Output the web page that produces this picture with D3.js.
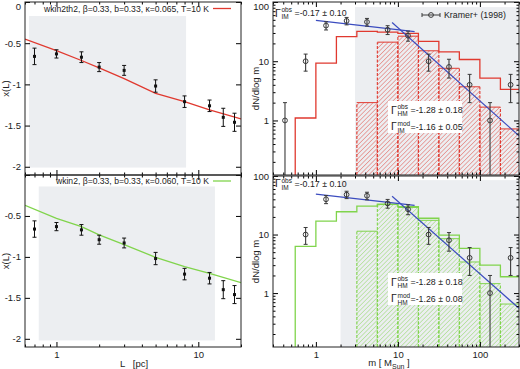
<!DOCTYPE html>
<html>
<head>
<meta charset="utf-8">
<script src="https://cdn.jsdelivr.net/npm/d3@7"></script>
<style>
  body { margin: 0; background: #fff; }
  svg { display: block; font-family: "Liberation Sans", Arial, sans-serif; }
</style>
</head>
<body>
<svg id="fig" width="520" height="369"></svg>
<script>
// ---- left panels: x(L) vs L ----
const obsL = [0.7, 1, 1.5, 2, 3, 5, 8, 12, 15, 18];
const obsX = [-0.66, -0.63, -0.67, -0.79, -0.83, -1.02, -1.21, -1.26, -1.40, -1.46];
const obsXErr = [0.10, 0.05, 0.065, 0.055, 0.06, 0.075, 0.07, 0.07, 0.11, 0.11];

const modelL = [0.6, 1, 1.5, 2, 3, 5, 8, 12, 20];
const modelRed = [-0.45, -0.59, -0.71, -0.80, -0.93, -1.11, -1.21, -1.31, -1.42];
const modelGreen = [-0.37, -0.53, -0.63, -0.73, -0.85, -1.005, -1.12, -1.20, -1.315];

const shadeTopL = [0.64, 8.2], shadeTopX = [-2.01, -0.17];
const shadeBotL = [0.75, 13.1], shadeBotX = [-2.02, -0.14];

const legendTop = "wkin2th2, β=0.33, b=0.33, κ=0.065, T=10 K";
const legendBot = "wkin2, β=0.33, b=0.33, κ=0.060, T=10 K";

// ---- right panels: mass spectra ----
const binEdges = [0.56, 1, 1.78, 3.16, 5.62, 10, 17.8, 31.6, 56.2, 100, 178, 316];
const redAll = [1.1, 9.3, 26, 32, 31, 29.5, 21.6, 14.4, 10.7, 5.2, 3.35];
const redSel = [null, null, null, 2.0, 21, 26.5, 15, 7.6, 3.7, 1.68, 0.72];
const greenAll = [6.3, 17, 24.5, 30.6, 33, 30, 19, 9.8, 5.8, 3.0, 1.9];
const greenSel = [null, null, null, 11.4, 32.5, 29, 17.5, 8.5, 3.4, 1.45, 0.65];

const kramerM = [0.42, 0.75, 1.33, 2.37, 4.2, 7.5, 13.3, 23.7, 42, 75, 133, 237];
const kramerN = [1, 10, 40, 48, 46, 34, 27, 10, 8, 4, 1, 4];
const kramerErr = [1, 3.2, 6.3, 6.9, 6.8, 5.8, 5.2, 3.2, 2.8, 2, 1, 2];

const fitImM = [1, 16], fitImN = [49, 31.5];
const fitHmM = [8.5, 300], fitHmN = [45, 0.55];

const shadeTopM = [3, 300], shadeTopN = [0.12, 82];
const shadeBotM = [2, 300], shadeBotN = [0.12, 85];

const xMajorL = [1, 10], xMinorL = [0.6, 0.7, 0.8, 0.9, 2, 3, 4, 5, 6, 7, 8, 9, 20];
const yMajorL = [0, -0.5, -1, -1.5, -2];
const mMajor = [1, 10, 100];
const mMinor = [0.3, 0.4, 0.5, 0.6, 0.7, 0.8, 0.9, 2, 3, 4, 5, 6, 7, 8, 9, 20, 30, 40, 50, 60, 70, 80, 90, 200, 300];
const nMajor = [1, 10, 100];
const nMinor = [0.2, 0.3, 0.4, 0.5, 0.6, 0.7, 0.8, 0.9, 2, 3, 4, 5, 6, 7, 8, 9, 20, 30, 40, 50, 60, 70, 80, 90];

const FONT = '"Liberation Sans", Arial, sans-serif';
const RED = "#e0392f", GREEN = "#80d44c", BLUE = "#3b4cbf", GREY = "#eceef1";

const svg = d3.select("#fig");
const defs = svg.append("defs");

function hatch(id, color) {
    defs.append("pattern")
        .attr("id", id)
        .attr("patternUnits", "userSpaceOnUse")
        .attr("width", 3.2).attr("height", 3.2)
        .attr("patternTransform", "rotate(45)")
        .append("line")
        .attr("x1", 0).attr("y1", 0).attr("x2", 0).attr("y2", 3.2)
        .attr("stroke", color).attr("stroke-width", 0.8);
}
hatch("hatchRed", RED);
hatch("hatchGreen", GREEN);

// inward ticks on all four sides, gnuplot style
function drawAxes(g, x, y, box, o) {
    const sets = [
        [d3.axisBottom(x), 0, box.y1, o.xMajor, o.xMinor, o.xLabels],
        [d3.axisTop(x), 0, box.y0, o.xMajor, o.xMinor, false],
        [d3.axisLeft(y), box.x0, 0, o.yMajor, o.yMinor, o.yLabels],
        [d3.axisRight(y), box.x1, 0, o.yMajor, o.yMinor, false]
    ];
    sets.forEach(([ax, tx, ty, major, minor, labels]) => {
        const a = g.append("g").attr("transform", `translate(${tx},${ty})`)
            .call(ax.tickValues(major).tickSize(-5).tickPadding(4)
                .tickFormat(labels ? (v => String(v)) : ""));
        a.attr("font-family", FONT).attr("font-size", 9.5);
        a.select(".domain").remove();
        a.selectAll("text").attr("fill", "#222");
        if (labels && o.hideLabel) a.selectAll(".tick").filter(o.hideLabel).select("text").remove();
        // keep a label that sits on the top edge inside the picture
        if (labels && o.nudge) a.selectAll(".tick").filter(o.nudge).select("text").attr("dy", "0.75em");
        if (minor) {
            const m = g.append("g").attr("transform", `translate(${tx},${ty})`)
                .call(ax.tickValues(minor).tickSize(-2.5).tickFormat(""));
            m.select(".domain").remove();
        }
    });
    g.append("rect")
        .attr("x", box.x0).attr("y", box.y0)
        .attr("width", box.x1 - box.x0).attr("height", box.y1 - box.y0)
        .attr("fill", "none").attr("stroke", "#222").attr("stroke-width", 1);
}

function clipFor(id, box) {
    defs.append("clipPath").attr("id", id).append("rect")
        .attr("x", box.x0).attr("y", box.y0)
        .attr("width", box.x1 - box.x0).attr("height", box.y1 - box.y0);
    return `url(#${id})`;
}

// ---- left panel ----
function drawLeft(p) {
    const box = p.box;
    const x = d3.scaleLog().domain([0.6, 20]).range([box.x0, box.x1]);
    const y = d3.scaleLinear().domain([-2.1, 0]).range([box.y1, box.y0]);
    const g = svg.append("g");
    const plot = g.append("g").attr("clip-path", clipFor(p.id, box));

    plot.append("rect")
        .attr("x", x(p.shadeL[0])).attr("y", y(p.shadeX[1]))
        .attr("width", x(p.shadeL[1]) - x(p.shadeL[0]))
        .attr("height", y(p.shadeX[0]) - y(p.shadeX[1]))
        .attr("fill", GREY);

    const line = d3.line().x((d, i) => x(modelL[i])).y(d => y(d));
    plot.append("path").datum(p.model)
        .attr("d", line).attr("fill", "none")
        .attr("stroke", p.color).attr("stroke-width", 1.3);

    const pts = plot.selectAll(".pt").data(obsL).enter().append("g");
    pts.append("line")
        .attr("x1", d => x(d)).attr("x2", d => x(d))
        .attr("y1", (d, i) => y(obsX[i] - obsXErr[i]))
        .attr("y2", (d, i) => y(obsX[i] + obsXErr[i]))
        .attr("stroke", "#111").attr("stroke-width", 1);
    [-1, 1].forEach(s => {
        pts.append("line")
            .attr("x1", d => x(d) - 2).attr("x2", d => x(d) + 2)
            .attr("y1", (d, i) => y(obsX[i] + s * obsXErr[i]))
            .attr("y2", (d, i) => y(obsX[i] + s * obsXErr[i]))
            .attr("stroke", "#111").attr("stroke-width", 1);
    });
    pts.append("rect")
        .attr("x", d => x(d) - 1.5).attr("y", (d, i) => y(obsX[i]) - 1.5)
        .attr("width", 3).attr("height", 3).attr("fill", "#111");

    drawAxes(g, x, y, box, {
        xMajor: xMajorL, xMinor: xMinorL, xLabels: p.xLabels,
        yMajor: yMajorL, yMinor: null, yLabels: true,
        hideLabel: p.hideZero ? (d => d === 0) : null,
        nudge: p.hideZero ? null : (d => d === 0)
    });

    // legend
    g.append("text").attr("x", box.x0 + 184).attr("y", p.legendY + 3.2)
        .attr("text-anchor", "end").attr("font-size", 8.6).attr("fill", "#222")
        .text(p.legend);
    g.append("line").attr("x1", box.x0 + 188).attr("x2", box.x0 + 206)
        .attr("y1", p.legendY).attr("y2", p.legendY)
        .attr("stroke", p.color).attr("stroke-width", 1.3);

    g.append("text")
        .attr("transform", `translate(9,${(box.y0 + box.y1) / 2}) rotate(-90)`)
        .attr("text-anchor", "middle").attr("font-size", 9.5).attr("fill", "#222")
        .text("x(L)");
}

// ---- Γ label with stacked super/subscript ----
function gammaLabel(g, x0, yc, sup, sub, rest) {
    g.append("text").attr("x", x0).attr("y", yc + 3.8)
        .attr("font-size", 10.5).attr("fill", "#222").text("Γ");
    g.append("text").attr("x", x0 + 6.5).attr("y", yc - 0.8)
        .attr("font-size", 6.5).attr("fill", "#222").text(sup);
    g.append("text").attr("x", x0 + 6.5).attr("y", yc + 6)
        .attr("font-size", 6.5).attr("fill", "#222").text(sub);
    g.append("text").attr("x", x0 + 19.5).attr("y", yc + 3.3)
        .attr("font-size", 8.8).attr("fill", "#222").text(rest);
}

// ---- right panel ----
function drawRight(p) {
    const box = p.box;
    const x = d3.scaleLog().domain([0.3, 300]).range([box.x0, box.x1]);
    const y = d3.scaleLog().domain([0.12, 100]).range([box.y1, box.y0]);
    const g = svg.append("g");
    const plot = g.append("g").attr("clip-path", clipFor(p.id, box));

    plot.append("rect")
        .attr("x", x(p.shadeM[0])).attr("y", y(p.shadeN[1]))
        .attr("width", x(p.shadeM[1]) - x(p.shadeM[0]))
        .attr("height", y(p.shadeN[0]) - y(p.shadeN[1]))
        .attr("fill", GREY);

    // selected (hatched) bars
    const bars = p.sel.map((v, i) => ({ v, a: binEdges[i], b: binEdges[i + 1] })).filter(d => d.v != null);
    plot.selectAll(".bar").data(bars).enter().append("rect")
        .attr("x", d => x(d.a)).attr("y", d => y(d.v))
        .attr("width", d => x(d.b) - x(d.a)).attr("height", d => box.y1 - y(d.v))
        .attr("fill", `url(#${p.hatch})`);
    plot.selectAll(".bartop").data(bars).enter().append("line")
        .attr("x1", d => x(d.a)).attr("x2", d => x(d.b))
        .attr("y1", d => y(d.v)).attr("y2", d => y(d.v))
        .attr("stroke", p.color).attr("stroke-width", 1);
    plot.selectAll(".barside").data(bars).enter().append("path")
        .attr("d", d => `M${x(d.a)},${box.y1}V${y(d.v)}M${x(d.b)},${box.y1}V${y(d.v)}`)
        .attr("fill", "none").attr("stroke", p.color).attr("stroke-width", 1.1)
        .attr("stroke-dasharray", "3,1.5");

    // full histogram outline
    const steps = [[binEdges[0], 0.01]];
    p.all.forEach((v, i) => { steps.push([binEdges[i], v]); steps.push([binEdges[i + 1], v]); });
    plot.append("path").datum(steps)
        .attr("d", d3.line().x(d => x(d[0])).y(d => Math.min(y(d[1]), box.y1 + 5)))
        .attr("fill", "none").attr("stroke", p.color).attr("stroke-width", 1.3);

    // fitted power laws
    [[fitImM, fitImN], [fitHmM, fitHmN]].forEach(([ms, ns]) => {
        plot.append("line")
            .attr("x1", x(ms[0])).attr("x2", x(ms[1]))
            .attr("y1", y(ns[0])).attr("y2", y(ns[1]))
            .attr("stroke", BLUE).attr("stroke-width", 1.2);
    });

    // Kramer+ (1998) points
    const obs = kramerM.map((m, i) => ({ m, n: kramerN[i], e: kramerErr[i] })).slice(p.firstPoint);
    const lo = d => d.n - d.e > 0 ? y(d.n - d.e) : box.y1;
    const pts = plot.selectAll(".kp").data(obs).enter().append("g");
    pts.append("line")
        .attr("x1", d => x(d.m)).attr("x2", d => x(d.m))
        .attr("y1", d => y(d.n + d.e)).attr("y2", lo)
        .attr("stroke", "#3a3a3a").attr("stroke-width", 1.1);
    pts.append("line")
        .attr("x1", d => x(d.m) - 2).attr("x2", d => x(d.m) + 2)
        .attr("y1", d => y(d.n + d.e)).attr("y2", d => y(d.n + d.e))
        .attr("stroke", "#3a3a3a").attr("stroke-width", 1);
    pts.filter(d => d.n - d.e > 0).append("line")
        .attr("x1", d => x(d.m) - 2).attr("x2", d => x(d.m) + 2)
        .attr("y1", lo).attr("y2", lo)
        .attr("stroke", "#3a3a3a").attr("stroke-width", 1);
    pts.append("circle")
        .attr("cx", d => x(d.m)).attr("cy", d => y(d.n)).attr("r", 2.4)
        .attr("fill", "none").attr("stroke", "#3a3a3a").attr("stroke-width", 1);

    // labels
    gammaLabel(g, box.x0 + 2, box.y0 + p.imY, "obs", "IM", "=-0.17 ± 0.10");
    g.append("rect").attr("x", 388).attr("y", box.y0 + p.boxY)
        .attr("width", 74).attr("height", 32).attr("fill", "#fff");
    gammaLabel(g, 391, box.y0 + p.boxY + 9, "obs", "HM", "=-1.28 ± 0.18");
    gammaLabel(g, 391, box.y0 + p.boxY + 25.5, "mod", p.modSub, p.modText);

    drawAxes(g, x, y, box, {
        xMajor: mMajor, xMinor: mMinor, xLabels: p.xLabels,
        yMajor: nMajor, yMinor: nMinor, yLabels: true,
        nudge: p.legend ? (d => d === 100) : null
    });

    g.append("text")
        .attr("transform", `translate(259,${(box.y0 + box.y1) / 2}) rotate(-90)`)
        .attr("text-anchor", "middle").attr("font-size", 9.5).attr("fill", "#222")
        .text("dN/dlog m");

    if (p.legend) {
        const ly = box.y0 + 13;
        g.append("line").attr("x1", 422).attr("x2", 440).attr("y1", ly).attr("y2", ly)
            .attr("stroke", "#3a3a3a").attr("stroke-width", 1);
        [422, 440].forEach(xx => g.append("line").attr("x1", xx).attr("x2", xx)
            .attr("y1", ly - 2).attr("y2", ly + 2).attr("stroke", "#3a3a3a"));
        g.append("circle").attr("cx", 431).attr("cy", ly).attr("r", 2.4)
            .attr("fill", "none").attr("stroke", "#3a3a3a");
        g.append("text").attr("x", 444).attr("y", ly + 3.3)
            .attr("font-size", 8.8).attr("fill", "#222").text("Kramer+ (1998)");
    }
}

drawLeft({ id: "cl1", box: { x0: 25, x1: 241, y0: 2, y1: 175 }, model: modelRed, color: RED,
    shadeL: shadeTopL, shadeX: shadeTopX, legend: legendTop, legendY: 8.5, xLabels: false, hideZero: false });
drawLeft({ id: "cl2", box: { x0: 25, x1: 241, y0: 175, y1: 347 }, model: modelGreen, color: GREEN,
    shadeL: shadeBotL, shadeX: shadeBotX, legend: legendBot, legendY: 181, xLabels: true, hideZero: true });

drawRight({ id: "cr1", box: { x0: 273, x1: 519, y0: 2, y1: 175 }, all: redAll, sel: redSel, color: RED,
    hatch: "hatchRed", shadeM: shadeTopM, shadeN: shadeTopN, firstPoint: 0, xLabels: false,
    imY: 11, boxY: 99, modSub: "IM", modText: "=-1.16 ± 0.05", legend: true });
drawRight({ id: "cr2", box: { x0: 273, x1: 519, y0: 176, y1: 347 }, all: greenAll, sel: greenSel, color: GREEN,
    hatch: "hatchGreen", shadeM: shadeBotM, shadeN: shadeBotN, firstPoint: 1, xLabels: true,
    imY: 7.5, boxY: 97, modSub: "HM", modText: "=-1.26 ± 0.08", legend: false });

// axis titles
svg.append("text").attr("x", 134).attr("y", 367).attr("text-anchor", "middle")
    .attr("font-size", 9.5).attr("fill", "#222").attr("xml:space", "preserve").text("L   [pc]");
const mt = svg.append("text").attr("x", 389).attr("y", 366).attr("text-anchor", "middle")
    .attr("font-size", 9.5).attr("fill", "#222");
mt.append("tspan").text("m [ M");
mt.append("tspan").attr("font-size", 7).attr("dy", 2.5).text("Sun");
mt.append("tspan").attr("dy", -2.5).text(" ]");
</script>
</body>
</html>
